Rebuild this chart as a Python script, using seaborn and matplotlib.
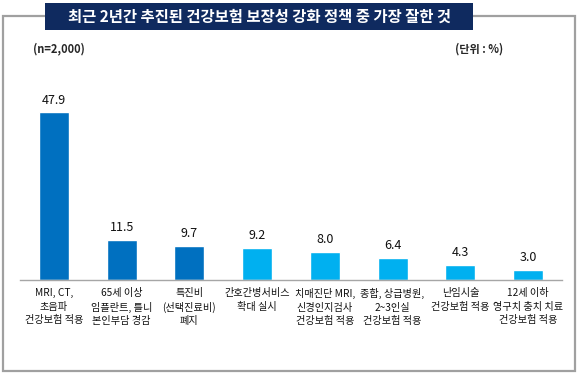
import numpy as np
import pandas as pd
import matplotlib
matplotlib.use("Agg")
import matplotlib.pyplot as plt
from matplotlib.patches import Rectangle
import seaborn as sns

# data
categories = [
    "MRI, CT,\n초음파\n건강보험 적용",
    "65세 이상\n임플란트, 틀니\n본인부담 경감",
    "특진비\n(선택진료비)\n폐지",
    "간호간병서비스\n확대 실시",
    "치매진단 MRI,\n신경인지검사\n건강보험 적용",
    "종합, 상급병원,\n2~3인실\n건강보험 적용",
    "난임시술\n건강보험 적용",
    "12세 이하\n영구치 충치 치료\n건강보험 적용",
]
values = [47.9, 11.5, 9.7, 9.2, 8.0, 6.4, 4.3, 3.0]
bar_colors = ["#0070C0"] * 3 + ["#00B0F0"] * 5

title = "최근 2년간 추진된 건강보험 보장성 강화 정책 중 가장 잘한 것"
note_left = "(n=2,000)"
note_right = "(단위 : %)"

sns.set_style("white")
plt.rcParams["font.family"] = ["Noto Sans CJK KR", "DejaVu Sans"]

W, H = 578, 376
fig = plt.figure(figsize=(W / 100, H / 100), dpi=100)

# outer gray frame and navy title box
fig.patches.append(Rectangle((2.5 / W, 5 / H), 572 / W, 355 / H, transform=fig.transFigure,
                             fill=False, edgecolor="#a0a0a0", lw=1.6, zorder=0))
fig.patches.append(Rectangle((45 / W, (H - 30) / H), 428 / W, 27 / H, transform=fig.transFigure,
                             facecolor="#0f2a5f", edgecolor="none", zorder=1))
fig.text(259 / W, (H - 17) / H, title, color="white", fontsize=11.1, fontweight="bold",
         ha="center", va="center", zorder=2)
fig.text(33 / W, (H - 49) / H, note_left, fontsize=8, fontweight="bold", ha="left", va="center")
fig.text(503 / W, (H - 49) / H, note_right, fontsize=8, fontweight="bold", ha="right", va="center")

ax = fig.add_axes([20 / W, 96 / H, 542 / W, 189 / H])
df = pd.DataFrame({"cat": categories, "val": values})
sns.barplot(data=df, x="cat", y="val", hue="cat", palette=bar_colors, legend=False,
            width=0.44, saturation=1, ax=ax)

for i, v in enumerate(values):
    ax.text(i, v + 1.6, f"{v:.1f}", ha="center", va="bottom", fontsize=9, color="#111111",
            clip_on=False)

ax.set_xlim(-0.5, len(values) - 0.5)
ax.set_ylim(0, 54)
ax.set_xlabel("")
ax.set_ylabel("")
ax.set_yticks([])
for s in ["top", "right", "left"]:
    ax.spines[s].set_visible(False)
ax.spines["bottom"].set_color("#a6a6a6")
ax.spines["bottom"].set_linewidth(1.0)

ax.set_xticks(range(len(categories)))
ax.set_xticklabels(categories, fontsize=7.3, linespacing=1.4, color="#111111")
ax.tick_params(axis="x", which="major", length=0, pad=6)
ax.set_xticks(np.arange(-0.5, len(categories)), minor=True)
ax.tick_params(axis="x", which="minor", length=3, color="#a6a6a6", direction="out")

fig.savefig("out.png", dpi=100)
